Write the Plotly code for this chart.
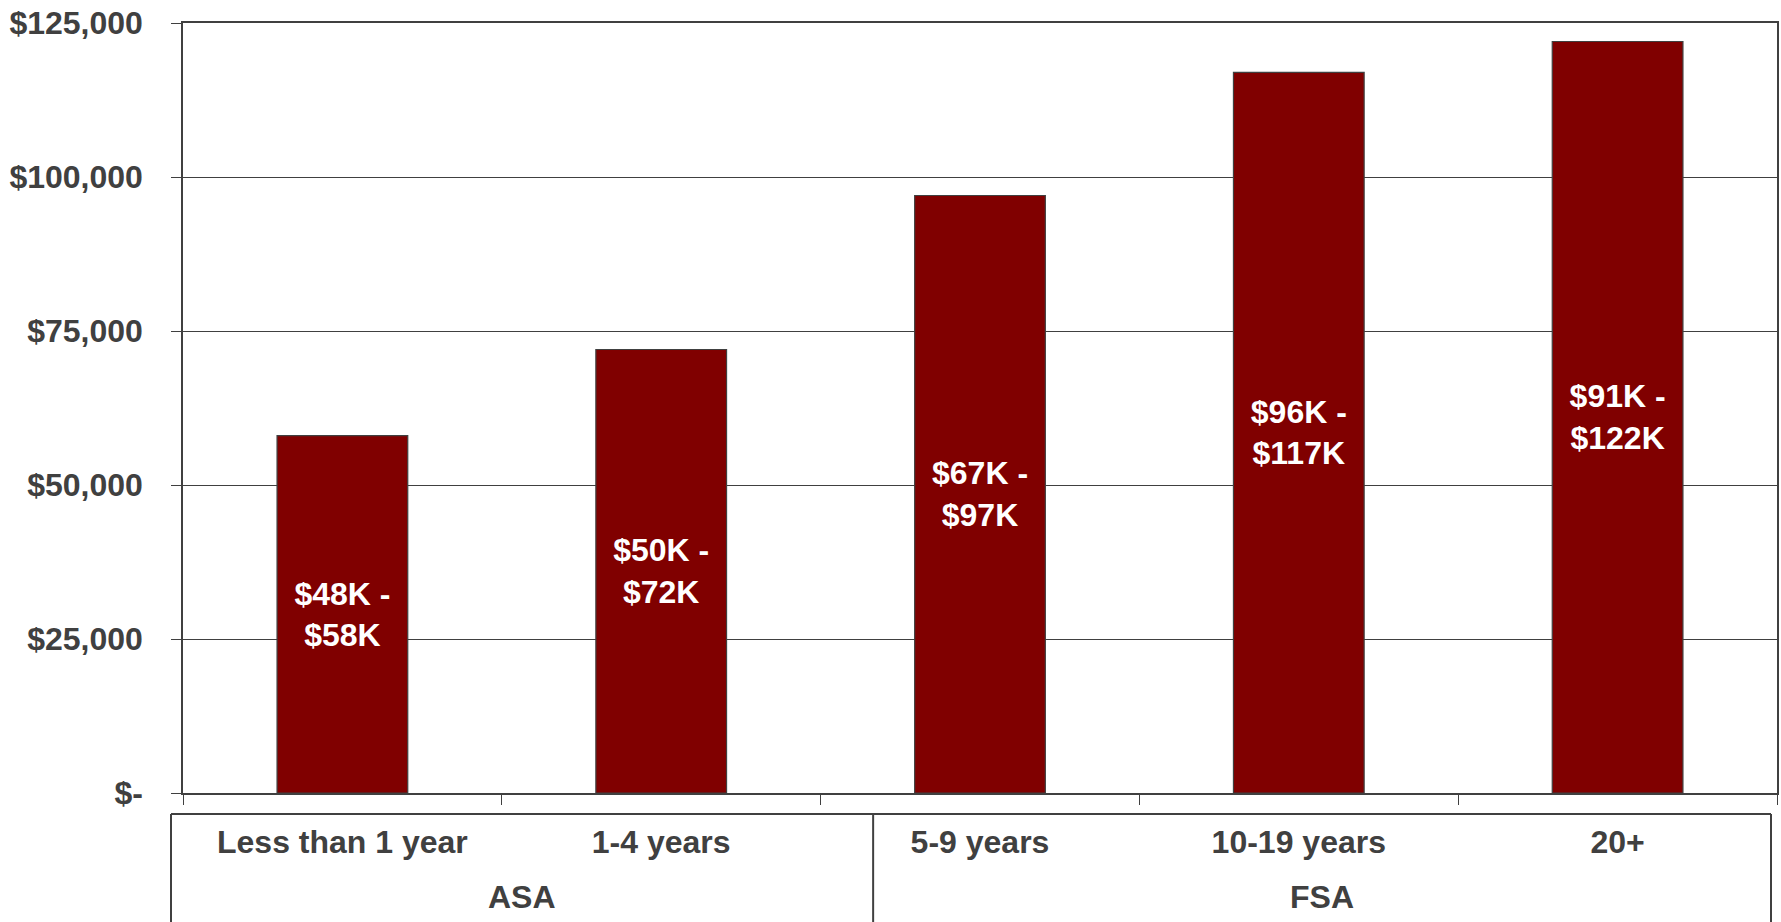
import plotly.graph_objects as go

# ---- data ----
categories = ["Less than 1 year", "1-4 years", "5-9 years", "10-19 years", "20+"]
groups = ["ASA", "FSA"]
group_sizes = [2, 3]
top_values = [58000, 72000, 97000, 117000, 122000]
range_labels = ["$48K -<br>$58K", "$50K -<br>$72K", "$67K -<br>$97K", "$96K -<br>$117K", "$91K -<br>$122K"]
y_tickvals = [0, 25000, 50000, 75000, 100000, 125000]
y_ticktext = ["$-", "$25,000", "$50,000", "$75,000", "$100,000", "$125,000"]

# ---- style ----
W, H = 1781, 922
ML, MR, MT, MB = 183, 2, 23, 129
PW, PH = W - ML - MR, H - MT - MB
GRAY = "#404040"
BAR = "#800000"
FONT = "Liberation Sans, Arial, sans-serif"
FS = 32


def px_x(p):
    return (p - ML) / PW


def px_y(p):
    return (H - MB - p) / PH


fig = go.Figure()
fig.add_trace(go.Bar(
    x=categories,
    y=top_values,
    width=0.41,
    marker=dict(color=BAR, line=dict(color=GRAY, width=1.2)),
    text=range_labels,
    textposition="inside",
    insidetextanchor="middle",
    textangle=0,
    constraintext="none",
    textfont=dict(family=FONT, size=FS, color="white", weight="bold"),
    hoverinfo="skip",
))

# lower "table" box
box_l, box_r, box_t, box_b, div_x = px_x(171), px_x(1773), px_y(814), -0.3, px_x(874)
line = dict(color=GRAY, width=2)
shapes = [
    dict(type="line", xref="paper", yref="paper", x0=box_l, x1=box_r, y0=box_t, y1=box_t, line=line),
    dict(type="line", xref="paper", yref="paper", x0=box_l, x1=box_l, y0=box_t, y1=box_b, line=line),
    dict(type="line", xref="paper", yref="paper", x0=box_r, x1=box_r, y0=box_t, y1=box_b, line=line),
    dict(type="line", xref="paper", yref="paper", x0=div_x, x1=div_x, y0=box_t, y1=box_b, line=line),
]
group_centers = [(box_l + div_x) / 2, (div_x + box_r) / 2]
annotations = [
    dict(text=g, xref="paper", yref="paper", x=cx, y=px_y(897), xanchor="center", yanchor="middle",
         showarrow=False, font=dict(family=FONT, size=FS, color=GRAY, weight="bold"))
    for g, cx in zip(groups, group_centers)
]

fig.update_layout(
    width=W, height=H,
    margin=dict(l=ML, r=MR, t=MT, b=MB, pad=0),
    paper_bgcolor="white", plot_bgcolor="white",
    showlegend=False,
    bargap=0.59,
    shapes=shapes,
    annotations=annotations,
    font=dict(family=FONT, size=FS, color=GRAY),
)
fig.update_xaxes(
    type="category",
    tickson="boundaries",
    ticks="outside", ticklen=10, tickwidth=1.3, tickcolor=GRAY,
    showline=True, linecolor=GRAY, linewidth=1.5, mirror=True,
    showgrid=False,
    tickfont=dict(family=FONT, size=FS, color=GRAY, weight="bold"),
    ticklabelstandoff=20,
    fixedrange=True,
)
fig.update_yaxes(
    range=[0, 125000],
    tickvals=y_tickvals, ticktext=y_ticktext,
    ticks="outside", ticklen=10, tickwidth=1.3, tickcolor=GRAY,
    showline=True, linecolor=GRAY, linewidth=1.5, mirror=True,
    showgrid=True, gridcolor=GRAY, gridwidth=1.3,
    zeroline=False,
    tickfont=dict(family=FONT, size=FS, color=GRAY, weight="bold"),
    ticklabelstandoff=22,
    fixedrange=True,
)

fig.write_html(
    "out.html",
    config={"displayModeBar": False},
    post_script="document.body.style.margin='0';document.body.style.overflow='hidden';",
)
